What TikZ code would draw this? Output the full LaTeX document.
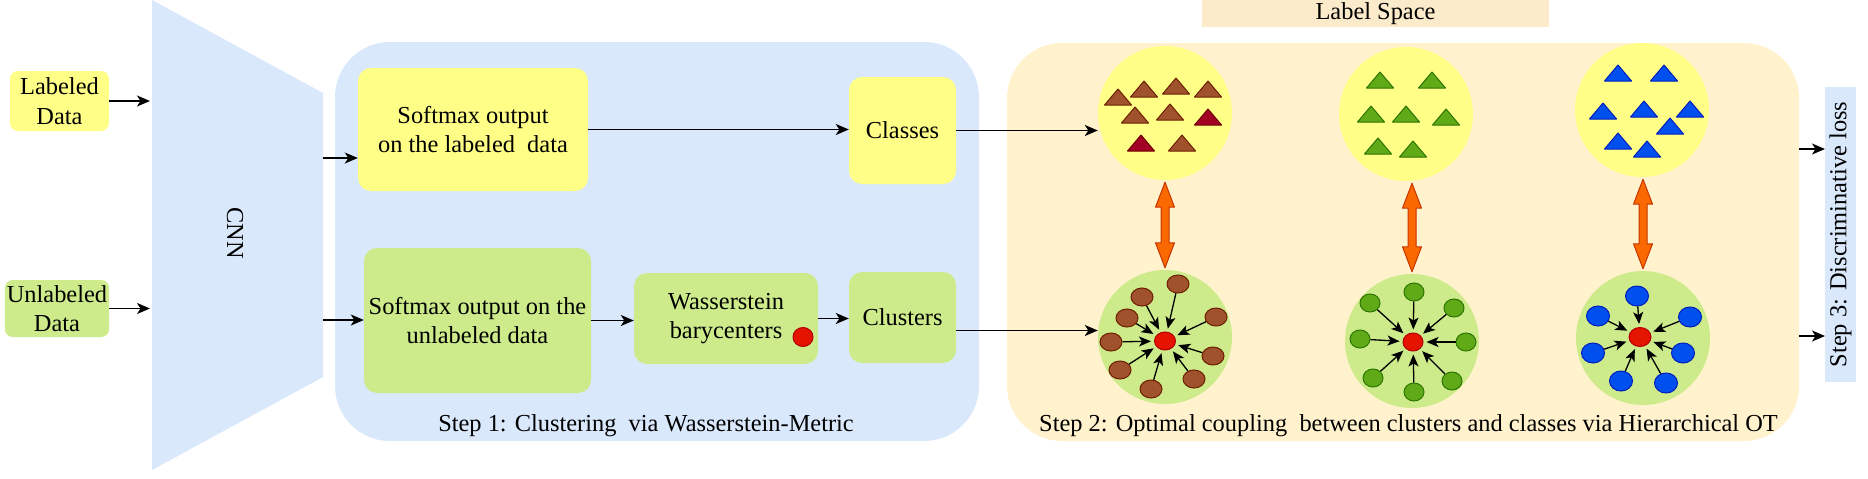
\documentclass[tikz,border=0pt]{standalone}
\usepackage{fontspec}
\setmainfont{Liberation Serif}
\usetikzlibrary{arrows.meta,calc,shapes.geometric}

\definecolor{panelblue}{HTML}{DAE8FC}
\definecolor{panelcream}{HTML}{FFF2CC}
\definecolor{labelcream}{HTML}{FCEBCB}
\definecolor{boxyellow}{HTML}{FFFF88}
\definecolor{boxgreen}{HTML}{CDEB8B}
\definecolor{brownfill}{HTML}{A0522D}
\definecolor{browndraw}{HTML}{6D1F00}
\definecolor{winefill}{HTML}{A20025}
\definecolor{winedraw}{HTML}{6F0000}
\definecolor{leaffill}{HTML}{60A917}
\definecolor{leafdraw}{HTML}{2D7600}
\definecolor{skyfill}{HTML}{0050EF}
\definecolor{skydraw}{HTML}{001DBC}
\definecolor{dotred}{HTML}{E51400}
\definecolor{dotreddraw}{HTML}{B20000}
\definecolor{orangefill}{HTML}{FA6800}
\definecolor{orangedraw}{HTML}{C73500}

\begin{document}
\begin{tikzpicture}[x=1pt, y=-1pt,
    every node/.style={font=\fontsize{24.4}{29.5}\selectfont},
    conn/.style={-{Stealth[length=13pt,width=11pt,inset=3.5pt]}, line width=1.5pt},
    pull/.style={-{Stealth[length=12pt,width=10pt,inset=3pt]}, line width=1.3pt, shorten >=3pt},
    softbox/.style={rounded corners=13pt, inner sep=2pt, align=center},
    panel/.style={rounded corners=55pt, inner sep=0pt},
    spacecirc/.style={circle, inner sep=0pt, minimum size=134pt},
    pt/.style={ellipse, inner sep=0pt, minimum width=22pt, minimum height=18pt, line width=1pt},
    centre/.style={pt, fill=dotred, draw=dotreddraw, minimum width=21pt},
    couple/.style={fill=orangefill, draw=orangedraw, line width=1pt, line join=round},
    pics/tri/.style={code={\path[pic actions, line width=1pt, line join=round] (-13.5,0) -- (13.5,0) -- (0,-16) -- cycle;}}
  ]
    \useasboundingbox (0,0) rectangle (1868,479);

    % orange double arrow between a class and a cluster
    \def\coupling#1#2{\path[couple] let \p1=(#1.south), \p2=(#2.north) in
      (\x2,\y1-2pt) -- (\x2+9.5pt,\y1-27pt) -- (\x2+4pt,\y1-27pt) -- (\x2+4pt,\y2+27pt)
      -- (\x2+9.5pt,\y2+27pt) -- (\x2,\y2+2pt) -- (\x2-9.5pt,\y2+27pt) -- (\x2-4pt,\y2+27pt)
      -- (\x2-4pt,\y1-27pt) -- (\x2-9.5pt,\y1-27pt) -- cycle;}

    % inputs and CNN
    \node[softbox, fill=boxyellow, rounded corners=8pt, minimum width=99pt, minimum height=60pt] (labin) at (59.5,101) {Labeled\\Data};
    \node[softbox, fill=boxgreen, rounded corners=8pt, minimum width=104pt, minimum height=57pt] (unlabin) at (57,308.5) {Unlabeled\\Data};

    \fill[panelblue] (152,0) -- (323,93) -- (323,377) -- (152,470) -- cycle;
    \node[rotate=-90] (cnn) at (235,233) {CNN};
    \coordinate (cnnin) at (150,0);
    \coordinate (feat1) at (323,158);
    \coordinate (feat2) at (323,320);

    \draw[conn] (labin.east) -- (labin.east -| cnnin);
    \draw[conn] (unlabin.east) -- (unlabin.east -| cnnin);

    % step 1
    \node[panel, fill=panelblue, minimum width=644pt, minimum height=399pt] (step1) at (657,241.5) {};
    \node (step1text) at (646,426) {Step 1: Clustering~ via Wasserstein-Metric};

    \node[softbox, fill=boxyellow, minimum width=230pt, minimum height=123pt] (sml) at (473,129.5) {Softmax output\\on the labeled~ data};
    \node[softbox, fill=boxgreen, minimum width=227pt, minimum height=145pt] (smu) at (477.5,320.5) {Softmax output on the\\unlabeled data};
    \node[softbox, fill=boxgreen, minimum width=184pt, minimum height=91pt] (wass) at (726,318.5) {Wasserstein\\barycenters};
    \node[centre, minimum width=20pt, minimum height=19pt] (wdot) at (803,337) {};
    \node[softbox, fill=boxyellow, minimum width=107pt, minimum height=107pt] (classes) at (902.5,130.5) {Classes};
    \node[softbox, fill=boxgreen, minimum width=107pt, minimum height=91pt] (clusters) at (902.5,317.5) {Clusters};

    \draw[conn] (feat1) -- (feat1 -| sml.west);
    \draw[conn] (feat2) -- (feat2 -| smu.west);
    \draw[conn] (sml.east) -- (sml.east -| classes.west);
    \draw[conn] (smu.east) -- (smu.east -| wass.west);
    \draw[conn] (wass.east) -- (wass.east -| clusters.west);

    % step 2
    \node[panel, fill=panelcream, minimum width=792pt, minimum height=398pt] (step2) at (1403,242) {};
    \node[fill=labelcream, inner sep=0pt, minimum width=347pt, minimum height=27pt] (space) at (1375.5,13.5) {Label Space};
    \node (step2text) at (1408.5,426) {Step 2: Optimal coupling~ between clusters and classes via Hierarchical OT};

    \node[spacecirc, fill=boxyellow] (lab1) at (1165,113) {};
    \node[spacecirc, fill=boxyellow] (lab2) at (1406,114) {};
    \node[spacecirc, fill=boxyellow] (lab3) at (1642,110) {};
    \node[spacecirc, fill=boxgreen] (clu1) at (1165,337) {};
    \node[spacecirc, fill=boxgreen] (clu2) at (1412,341) {};
    \node[spacecirc, fill=boxgreen] (clu3) at (1643,338) {};

    \draw[conn] (classes.east) -- (classes.east -| lab1.west);
    \draw[conn] ([yshift=-13pt]clusters.east) -- ([yshift=-13pt]clusters.east -| clu1.west);

    \coupling{lab1}{clu1}
    \coupling{lab2}{clu2}
    \coupling{lab3}{clu3}

    % classes in the label space
    \foreach \x/\y in {1118/105, 1144/97, 1176/94, 1208/97, 1135/123, 1170/120, 1182/151}
      \pic[fill=brownfill, draw=browndraw] at (\x,\y) {tri};
    \foreach \x/\y in {1208/125, 1141/151}
      \pic[fill=winefill, draw=winedraw] at (\x,\y) {tri};
    \foreach \x/\y in {1380/88, 1432/88, 1371/122, 1406/122, 1446/125, 1378/154, 1413/157}
      \pic[fill=leaffill, draw=leafdraw] at (\x,\y) {tri};
    \foreach \x/\y in {1618/81, 1664/81, 1603/119, 1644/117, 1690/117, 1670/134, 1618/149, 1647/157}
      \pic[fill=skyfill, draw=skydraw] at (\x,\y) {tri};

    % clusters pulled to their barycenters
    \node[centre] (m1) at (1165,341) {};
    \foreach \x/\y [count=\i] in {1178/284, 1142/297, 1127/318, 1111/342, 1120/370, 1151/389, 1194/379, 1213/356, 1216/317} {
      \node[pt, fill=brownfill, draw=browndraw] (b\i) at (\x,\y) {};
      \draw[pull] (b\i) -- (m1);
    }
    \node[centre, minimum width=20pt] (m2) at (1413,342) {};
    \foreach \x/\y [count=\i] in {1414/292, 1370/303, 1454/308, 1360/339, 1466/342, 1373/378, 1452/381, 1414/392} {
      \node[pt, fill=leaffill, draw=leafdraw, minimum width=20pt] (g\i) at (\x,\y) {};
      \draw[pull] (g\i) -- (m2);
    }
    \node[centre, minimum width=22pt, minimum height=19pt] (m3) at (1640,337) {};
    \foreach \x/\y [count=\i] in {1637/296, 1598/316, 1690/317, 1593/353, 1683/353, 1621/381, 1666/383} {
      \node[pt, fill=skyfill, draw=skydraw, minimum width=23pt, minimum height=20pt] (u\i) at (\x,\y) {};
      \draw[pull] (u\i) -- (m3);
    }

    % step 3
    \node[fill=panelblue, rotate=90, inner sep=0pt, minimum width=295pt, minimum height=31pt] (step3) at (1840.5,234.5) {Step 3: Discriminative loss};
    \coordinate (loss1) at (1825,149);
    \coordinate (loss2) at (1825,336);
    \draw[conn] (loss1 -| step2.east) -- (loss1);
    \draw[conn] (loss2 -| step2.east) -- (loss2);
  \end{tikzpicture}
\end{document}
